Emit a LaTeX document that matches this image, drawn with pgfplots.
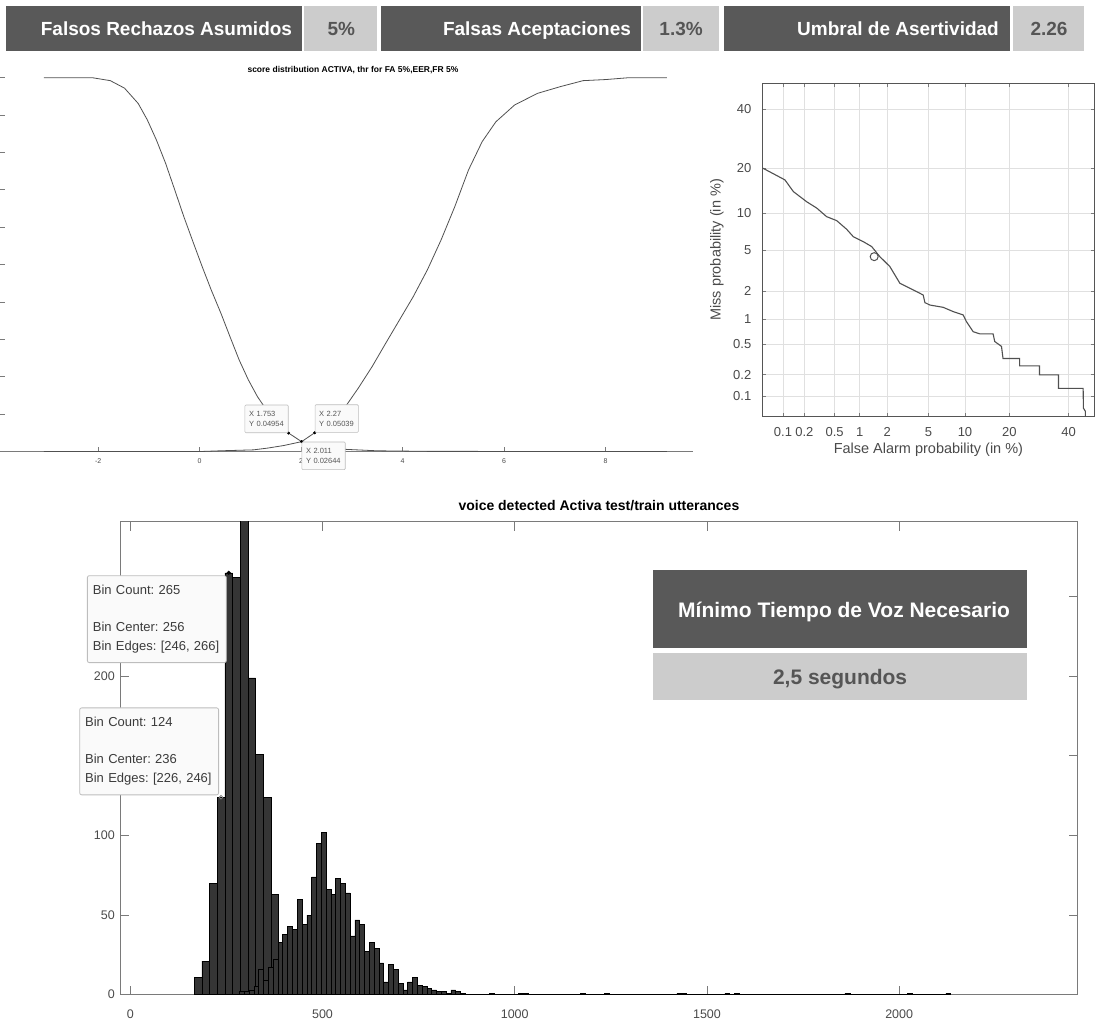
\documentclass[border=0pt]{standalone}
\usepackage{fontspec}
\setmainfont{Liberation Sans}
\usepackage{pgfplots}
\pgfplotsset{compat=1.18}
\usepackage{pgfplotstable}

\definecolor{boxDark}{HTML}{595959}
\definecolor{boxLight}{HTML}{CCCCCC}
\definecolor{txtGrey}{HTML}{555555}
\definecolor{tickGrey}{HTML}{4A4A4A}
\definecolor{axGrey}{HTML}{7A7A7A}
\definecolor{curveGrey}{HTML}{505050}
\definecolor{gridGrey}{HTML}{E0E0E0}
\definecolor{histFill}{HTML}{353535}
\definecolor{tipBorder}{HTML}{BDBDBD}
\definecolor{tipFill}{HTML}{FAFAFA}

\newcommand\fs[2]{\fontsize{#1bp}{#2bp}\selectfont}

% normal deviate (probit) of a percentage, Abramowitz-Stegun 26.2.23
\newcommand\probit[1]{%
  \pgfmathsetmacro\probitT{sqrt(-2*(ln(#1)-4.605170))}%
  \pgfmathparse{-(\probitT-(2.515517+0.802853*\probitT+0.010328*\probitT*\probitT)/(1+1.432788*\probitT+0.189269*\probitT*\probitT+0.001308*\probitT*\probitT*\probitT))}%
}

% score distribution curves
\pgfplotstableread{
score frac
-3.07 1.0
-2.12 1.0
-1.76 0.992
-1.48 0.972
-1.21 0.931
-1.03 0.887
-0.85 0.833
-0.67 0.771
-0.49 0.700
-0.31 0.628
-0.13 0.561
0.05 0.495
0.23 0.432
0.42 0.370
0.60 0.307
0.78 0.245
0.96 0.192
1.14 0.147
1.275 0.120
1.5 0.083
1.753 0.04954
2.011 0.02644
2.4 0.012
2.86 0.006
3.5 0.002
4.5 0.0005
9.21 0
}\frcurve

\pgfplotstableread{
score frac
-3.07 0
0.0 0
0.41 0.002
1.06 0.0045
1.33 0.009
1.655 0.016
2.011 0.02644
2.27 0.05039
2.60 0.088
2.90 0.125
3.13 0.170
3.40 0.227
3.67 0.290
3.94 0.352
4.21 0.414
4.49 0.486
4.76 0.566
5.03 0.655
5.30 0.753
5.57 0.829
5.84 0.882
6.21 0.927
6.66 0.958
7.11 0.976
7.56 0.992
8.01 0.995
8.47 1.0
9.21 1.0
}\facurve

% DET curve, percentages
\pgfplotstableread{
fa miss
0.05 20.1
0.107 17.0
0.141 14.25
0.216 12.1
0.294 10.9
0.395 9.4
0.529 8.76
0.70 7.48
0.84 6.5
1.095 5.9
1.36 5.35
1.67 4.35
2.13 3.52
2.69 2.42
3.37 2.15
4.18 1.91
4.49 1.83
4.65 1.52
5.15 1.43
6.7 1.35
8.1 1.21
9.68 1.11
10.26 0.93
11.5 0.71
12.8 0.67
15.8 0.67
16.2 0.54
17.9 0.47
18.3 0.33
23.0 0.33
23.0 0.264
29.4 0.264
29.4 0.20
36.2 0.20
36.2 0.13
45.7 0.13
45.8 0.067
46.6 0.06
46.6 0.05
}\detcurve

% histograms: left bin edge, count
\pgfplotstableread{
edge count
166 11
186 21
206 70
226 124
246 265
266 262
286 330
306 199
326 151
346 124
366 63
386 0
}\histA

\pgfplotstableread{
edge count
284 2
296.5 2
309 3
321.5 5
334 16
346.5 9
359 17
371.5 22
384 33
396.5 38
409 43
421.5 41
434 60
446.5 44
459 50
471.5 74
484 95
496.5 102
509 66
521.5 63
534 73
546.5 70
559 64
571.5 37
584 47
596.5 44
609 27
621.5 33
634 29
646.5 20
659 8
671.5 19
684 16
696.5 7
709 3
721.5 8
734 11
746.5 6
759 5
771.5 4
784 3
796.5 2
809 2
821.5 1
834 3
846.5 2
859 1
871.5 0
934 1
946.5 0
1009 1
1021.5 1
1034 0
1171.5 1
1184 0
1234 1
1246.5 0
1421.5 1
1434 1
1446.5 0
1546.5 1
1559 0
1571.5 1
1584 0
1859 1
1871.5 0
2021.5 1
2034 0
2121.5 1
2134 0
}\histB

\pgfplotsset{/pgf/number format/assume math mode=true, every axis title shift=0pt}
\tikzset{
  smalltip/.style={draw=tipBorder, fill=tipFill, rounded corners=1bp, line width=0.6bp,
    align=left, inner xsep=4bp, inner ysep=0pt, text width=35bp,
    minimum height=27.7bp, font=\fs{7.5}{10}\frenchspacing, text=txtGrey},
  bigtip/.style={draw=tipBorder, fill=tipFill, rounded corners=2bp, line width=0.8bp,
    align=left, inner xsep=5.5bp, inner ysep=0pt, text width=128bp,
    minimum height=87bp, font=\fs{13}{18.5}\frenchspacing, text=txtGrey!70!black},
}

\begin{document}
\begin{tikzpicture}[x=1bp,y=1bp]
\path (0,0) rectangle (1095,1022);

% ---- top banner
\fill[boxDark] (5.6,971) rectangle (302,1016);
\fill[boxLight] (304,971) rectangle (377,1016);
\fill[boxDark] (381,971) rectangle (641,1016);
\fill[boxLight] (643,971) rectangle (719,1016);
\fill[boxDark] (724,971) rectangle (1010,1016);
\fill[boxLight] (1013,971) rectangle (1084,1016);
\begin{scope}[every node/.style={font=\bfseries\fs{19}{22}, inner sep=0pt}]
\node[anchor=base east, text=white] at (292,986.7) {Falsos Rechazos Asumidos};
\node[anchor=base, text=txtGrey] at (341,986.7) {5\%};
\node[anchor=base east, text=white] at (631,986.7) {Falsas Aceptaciones};
\node[anchor=base, text=txtGrey] at (681,986.7) {1.3\%};
\node[anchor=base east, text=white] at (999,986.7) {Umbral de Asertividad};
\node[anchor=base, text=txtGrey] at (1049,986.7) {2.26};
\end{scope}

% ---- DET curve
\begin{scope}[shift={(762.7,605.3)}]
\begin{axis}[
    disabledatascaling, scale only axis,
    width=331.3bp, height=333.4bp,
    xmin=0.05, xmax=50, ymin=0.05, ymax=50,
    x coord trafo/.code={\probit{#1}},
    y coord trafo/.code={\probit{#1}},
    xtick={0.1,0.2,0.5,1,2,5,10,20,40},
    xticklabels={0.1,0.2,0.5,1,2,5,10,20,40},
    ytick={0.1,0.2,0.5,1,2,5,10,20,40},
    yticklabels={0.1,0.2,0.5,1,2,5,10,20,40},
    grid=major, major grid style={draw=gridGrey, line width=0.7bp},
    axis line style={draw=axGrey!70!black, line width=1bp},
    tick align=inside, major tick length=3.5bp,
    tick style={draw=axGrey, line width=0.7bp},
    ticklabel style={font=\fs{13}{15}, text=tickGrey},
    xticklabel style={yshift=-7bp},
    yticklabel style={xshift=-8bp},
    xlabel={False Alarm probability (in \%)},
    ylabel={Miss probability (in \%)},
    label style={font=\fs{14.5}{17}, text=tickGrey},
    xlabel style={at={(axis description cs:0.5,-0.1)}, anchor=center},
    ylabel style={at={(axis description cs:-0.139,0.5)}, anchor=center},
  ]
  \addplot[curveGrey, line width=1.1bp] table[x=fa, y=miss] {\detcurve};
  \addplot[only marks, mark=o, mark size=4bp, curveGrey, line width=1bp] coordinates {(1.45,4.35)};
\end{axis}
\end{scope}

% ---- score distribution (cropped on the left and right)
\begin{scope}[shift={(0,570.3)}]
\begin{axis}[
    disabledatascaling, scale only axis,
    width=693bp, height=374bp,
    xmin=-3.927, xmax=9.728, ymin=0, ymax=1,
    axis line style={draw=none},
    tick pos=left,
    xtick={-2,0,2,4,6,8},
    ytick={0,0.1,0.2,0.3,0.4,0.5,0.6,0.7,0.8,0.9,1},
    yticklabels={},
    yticklabel style={overlay},
    tick align=inside, major tick length=4.5bp,
    tick style={draw=axGrey, line width=0.7bp},
    ticklabel style={font=\fs{7}{8}, text=tickGrey},
    xticklabel style={yshift=-4bp},
    title={score distribution ACTIVA, thr for FA 5\%,EER,FR 5\%},
    title style={font=\bfseries\fs{8.5}{10}, at={(axis description cs:0.509,1)}, anchor=center, yshift=7.7bp},
  ]
  \draw[axGrey, line width=0.8bp] (axis cs:-3.927,0) -- (axis cs:9.728,0);
  \addplot[curveGrey, line width=0.8bp] table[x=score, y=frac] {\frcurve};
  \addplot[curveGrey, line width=0.8bp] table[x=score, y=frac] {\facurve};
  \addplot[only marks, mark=*, mark size=1.3bp, black] coordinates {(1.753,0.04954) (2.27,0.05039) (2.011,0.02644)};
\end{axis}
% data tips of the score plot
\begin{axis}[
    disabledatascaling, scale only axis,
    width=693bp, height=374bp,
    xmin=-3.927, xmax=9.728, ymin=0, ymax=1,
    hide axis, clip=false,
  ]
  \node[smalltip, anchor=south east, minimum width=43.3bp] at (axis cs:1.753,0.04954) {X 1.753\\Y 0.04954};
  \node[smalltip, anchor=south west, minimum width=43.3bp] at (axis cs:2.27,0.05039) {X 2.27\\Y 0.05039};
  \node[smalltip, anchor=north west, minimum width=43.3bp] at (axis cs:2.011,0.02644) {X 2.011\\Y 0.02644};
\end{axis}
\end{scope}

% ---- voice duration histogram
\begin{scope}[shift={(120,27)}]
\begin{axis}[
    disabledatascaling, scale only axis,
    width=957.5bp, height=473bp,
    xmin=-26, xmax=2464, ymin=0, ymax=297,
    xtick={0,500,1000,1500,2000},
    ytick={0,50,100,150,200,250},
    scaled ticks=false, /pgf/number format/1000 sep={},
    tick pos=both,
    axis line style={draw=axGrey, line width=1.1bp},
    tick align=inside, major tick length=9bp,
    tick style={draw=axGrey, line width=0.8bp},
    ticklabel style={font=\fs{12.5}{15}, text=tickGrey},
    xticklabel style={yshift=-12bp},
    yticklabel style={xshift=-2bp},
    title={voice detected Activa test/train utterances},
    title style={font=\bfseries\fs{14}{16}, at={(axis description cs:0.5,1)}, anchor=center, yshift=16bp},
  ]
  \addplot[ybar interval, fill=histFill, draw=black, line width=0.5bp] table[x=edge, y=count] {\histA};
  \addplot[ybar interval, fill=histFill, draw=black, line width=0.5bp] table[x=edge, y=count] {\histB};
  \addplot[only marks, mark=*, mark size=1.8bp, black] coordinates {(256,265)};
  \addplot[only marks, mark=o, mark size=1.8bp, gray, line width=0.8bp] coordinates {(236,124)};
\end{axis}
% data tips of the histogram, drawn above everything
\begin{axis}[
    disabledatascaling, scale only axis,
    width=957.5bp, height=473bp,
    xmin=-26, xmax=2464, ymin=0, ymax=297,
    hide axis, clip=false,
  ]
  \node[bigtip, anchor=north east, minimum width=139bp, xshift=-2bp, yshift=-2.5bp] at (axis cs:256,265)
    {Bin Count: 265\\[18.5bp]Bin Center: 256\\Bin Edges: [246, 266]};
  \node[bigtip, anchor=south east, minimum width=139bp, xshift=-2bp, yshift=2bp] at (axis cs:236,124)
    {Bin Count: 124\\[18.5bp]Bin Center: 236\\Bin Edges: [226, 246]};
\end{axis}
\end{scope}

% ---- minimum voice time banner
\fill[boxDark] (653.3,373.7) rectangle (1027.3,452);
\fill[boxLight] (653.3,321.3) rectangle (1027.3,368.7);
\node[font=\bfseries\fs{21}{24}, text=white, inner sep=0pt, anchor=base] at (844,403.8) {Mínimo Tiempo de Voz Necesario};
\node[font=\bfseries\fs{21}{24}, text=txtGrey, inner sep=0pt, anchor=base] at (840,337.2) {2,5 segundos};
\end{tikzpicture}
\end{document}
